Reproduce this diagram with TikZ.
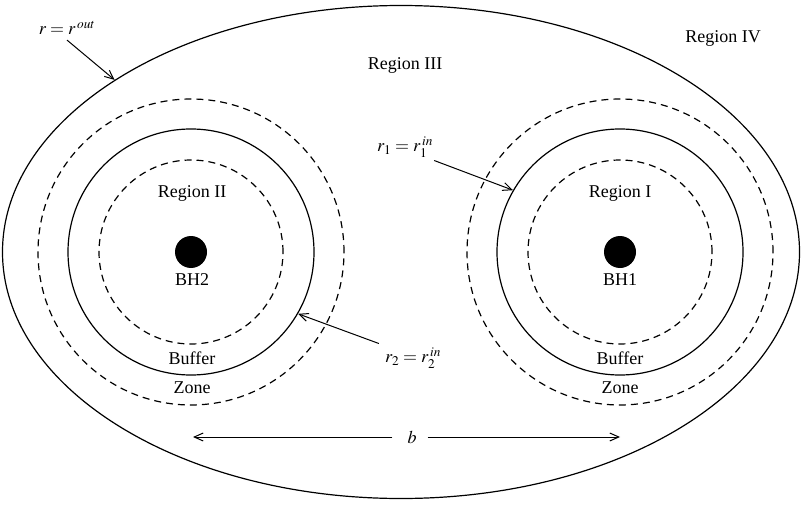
\documentclass[tikz,border=0pt]{standalone}
\usepackage{mathptmx}
\usepackage{fontspec}
\setmainfont{Liberation Serif}
\usepackage{tikz}
\usetikzlibrary{arrows.meta, shapes.geometric}
\tikzset{
  label text/.style={font=\fontsize{18}{20}\selectfont, inner sep=1pt},
  zone line/.style={circle, draw, line width=1.2pt, inner sep=0pt},
  zone dash/.style={zone line, dash pattern=on 7pt off 5pt},
  hole/.style={circle, fill=black, minimum size=32pt, inner sep=0pt},
  pointer/.style={-{Straight Barb[length=9pt, width=8pt]}, line width=1pt},
}

\begin{document}
\begin{tikzpicture}[x=1pt, y=1pt]
  \useasboundingbox (0,0) rectangle (802,504);
  % outer boundary
  \node[ellipse, draw, line width=1.2pt, minimum width=797pt, minimum height=493pt, inner sep=0pt] (outer) at (401,252) {};

  % black hole 2 (left)
  \node[hole] (BH2) at (191,252) {};
  \node[zone line, minimum size=246pt] (C2) at (BH2) {};
  \node[zone dash, minimum size=184pt] (D2in) at (BH2) {};
  \node[zone dash, minimum size=306pt] (D2out) at (BH2) {};
  \node[label text] (R2) at (192,311) {Region II};
  \node[label text] (L2) at (192,224) {BH2};
  \node[label text] (B2) at (192,146) {Buffer};
  \node[label text] (Z2) at (192,116) {Zone};

  % black hole 1 (right)
  \node[hole] (BH1) at (620,252) {};
  \node[zone line, minimum size=246pt] (C1) at (BH1) {};
  \node[zone dash, minimum size=184pt] (D1in) at (BH1) {};
  \node[zone dash, minimum size=306pt] (D1out) at (BH1) {};
  \node[label text] (R1) at (620,311) {Region I};
  \node[label text] (L1) at (620,224) {BH1};
  \node[label text] (B1) at (620,146) {Buffer};
  \node[label text] (Z1) at (620,116) {Zone};

  \node[label text] (R3) at (405,439) {Region III};
  \node[label text] (R4) at (723,466) {Region IV};

  % radii labels
  \node[label text] (rout) at (67,476) {$r = r^{\,out}$};
  \node[label text] (rin1) at (405,357) {$r_1 = r_1^{\,in}$};
  \node[label text] (rin2) at (413,146) {$r_2 = r_2^{\,in}$};
  \draw[pointer] ([yshift=-4pt]rout.south) -- (outer.149.6);
  \draw[pointer] ([shift={(0pt,-2pt)}]rin1.south east) -- (C1.150);
  \draw[pointer] ([shift={(-5pt,3pt)}]rin2.north west) -- (C2.-30);

  % separation
  \node[label text] (b) at (412,67) {$b$};
  \coordinate (bL) at (193,67);
  \coordinate (bR) at (620,67);
  \draw[pointer] ([xshift=-14pt]b.west) -- (bL);
  \draw[pointer] ([xshift=10pt]b.east) -- (bR);
\end{tikzpicture}
\end{document}
